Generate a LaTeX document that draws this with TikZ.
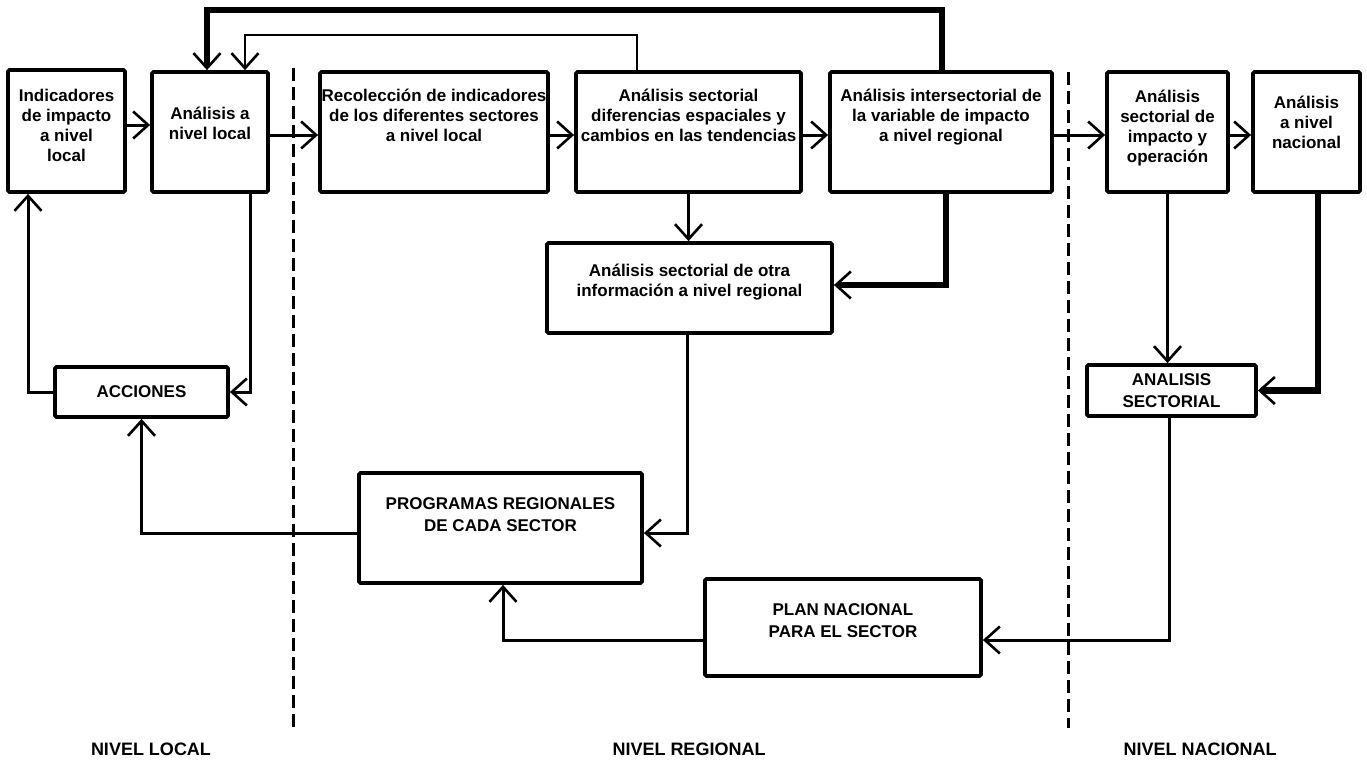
\documentclass[tikz,border=0pt]{standalone}
\usepackage{fontspec}
\setmainfont{Liberation Sans}
\usetikzlibrary{arrows.meta}

\begin{document}
\begin{tikzpicture}[
    x=1pt, y=-1pt,
    block/.style={draw, line width=3.8pt, rounded corners=1.5pt, align=center, inner sep=1pt,
        font=\fontsize{17}{20}\selectfont\bfseries},
    capsblock/.style={block, font=\fontsize{17}{22}\selectfont\bfseries},
    link/.style={line width=3pt, -{Straight Barb[length=15pt, width=27pt, line width=2.6pt]}},
    heavylink/.style={link, line width=6.5pt},
    lightlink/.style={link, line width=2.4pt},
    divider/.style={line width=3pt, dash pattern=on 13pt off 6pt},
    level/.style={font=\fontsize{18}{20}\selectfont\bfseries}
]
    \useasboundingbox (0,0) rectangle (1367,760);

    % nivel local
    \node[block, minimum width=117, minimum height=122, text depth=12] (L1) at (66.5, 131) {Indicadores\\de impacto\\a nivel\\local};
    \node[block, minimum width=116, minimum height=120, text depth=18] (L2) at (210, 132) {Análisis a\\nivel local};
    \node[capsblock, minimum width=173, minimum height=50] (L3) at (141.5, 392) {ACCIONES};

    % nivel regional
    \node[block, minimum width=228, minimum height=120, text depth=34] (R1) at (434, 132) {Recolección de indicadores\\de los diferentes sectores\\a nivel local};
    \node[block, minimum width=225, minimum height=120, text depth=34] (R2) at (688.5, 132) {Análisis sectorial\\diferencias espaciales y\\cambios en las tendencias};
    \node[block, minimum width=222, minimum height=120, text depth=34] (R3) at (941, 132) {Análisis intersectorial de\\la variable de impacto\\a nivel regional};
    \node[block, minimum width=285, minimum height=90, text depth=16] (R4) at (689.5, 288) {Análisis sectorial de otra\\información a nivel regional};
    \node[capsblock, minimum width=283, minimum height=110, text depth=26] (R5) at (500.5, 528) {PROGRAMAS REGIONALES\\DE CADA SECTOR};

    % nivel nacional
    \node[block, minimum width=121, minimum height=120, text depth=12] (N1) at (1167.5, 132) {Análisis\\sectorial de\\impacto y\\operación};
    \node[block, minimum width=107, minimum height=120, text depth=20] (N2) at (1306.5, 132) {Análisis\\a nivel\\nacional};
    \node[capsblock, minimum width=169, minimum height=51] (N3) at (1171.5, 390.5) {ANALISIS\\SECTORIAL};
    \node[capsblock, minimum width=276, minimum height=97, text depth=14] (N4) at (843, 627.5) {PLAN NACIONAL\\PARA EL SECTOR};

    \node[level] (T1) at (151, 749) {NIVEL LOCAL};
    \node[level] (T2) at (689, 749) {NIVEL REGIONAL};
    \node[level] (T3) at (1200, 749) {NIVEL NACIONAL};

    \draw[divider] (293, 68) -- (293, 728);
    \draw[divider] (1068, 72) -- (1068, 728);

    % fila superior
    \draw[link] ([yshift=6pt]L1.east) -- ([yshift=7pt]L2.west);
    \draw[link] ([yshift=-3pt]L2.east) -- ([yshift=-3pt]R1.west);
    \draw[link] ([yshift=-3pt]R1.east) -- ([yshift=-3pt]R2.west);
    \draw[link] ([yshift=-3pt]R2.east) -- ([yshift=-3pt]R3.west);
    \draw[link] ([yshift=-3pt]R3.east) -- ([yshift=-3pt]N1.west);
    \draw[link] ([yshift=-3pt]N1.east) -- ([yshift=-3pt]N2.west);

    % retornos
    \draw[heavylink] ([xshift=1pt]R3.north) |- ([xshift=-3pt, yshift=60pt]L2.north) -- ([xshift=-3pt]L2.north);
    \draw[lightlink] ([xshift=-51.5pt]R2.north) |- ([xshift=35pt, yshift=35pt]L2.north) -- ([xshift=35pt]L2.north);

    \draw[link] (R2.south) -- (R2.south |- R4.north);
    \draw[heavylink] ([xshift=5pt]R3.south) |- ([yshift=3pt]R4.east);
    \draw[link] ([xshift=40pt]L2.south) |- (L3.east);
    \draw[link] (L3.west) -| ([xshift=-38.5pt]L1.south);
    \draw[link] ([xshift=-2.5pt]R4.south) |- ([yshift=-5pt]R5.east);
    \draw[link] ([yshift=-5pt]R5.west) -| (L3.south);

    \draw[link] (N1.south) -- (N1.south |- N3.north);
    \draw[heavylink] ([xshift=11.5pt]N2.south) |- (N3.east);
    \draw[link] ([xshift=-2.5pt]N3.south) |- ([yshift=-12.5pt]N4.east);
    \draw[link] ([yshift=-12.5pt]N4.west) -| ([xshift=2.5pt]R5.south);
\end{tikzpicture}
\end{document}
